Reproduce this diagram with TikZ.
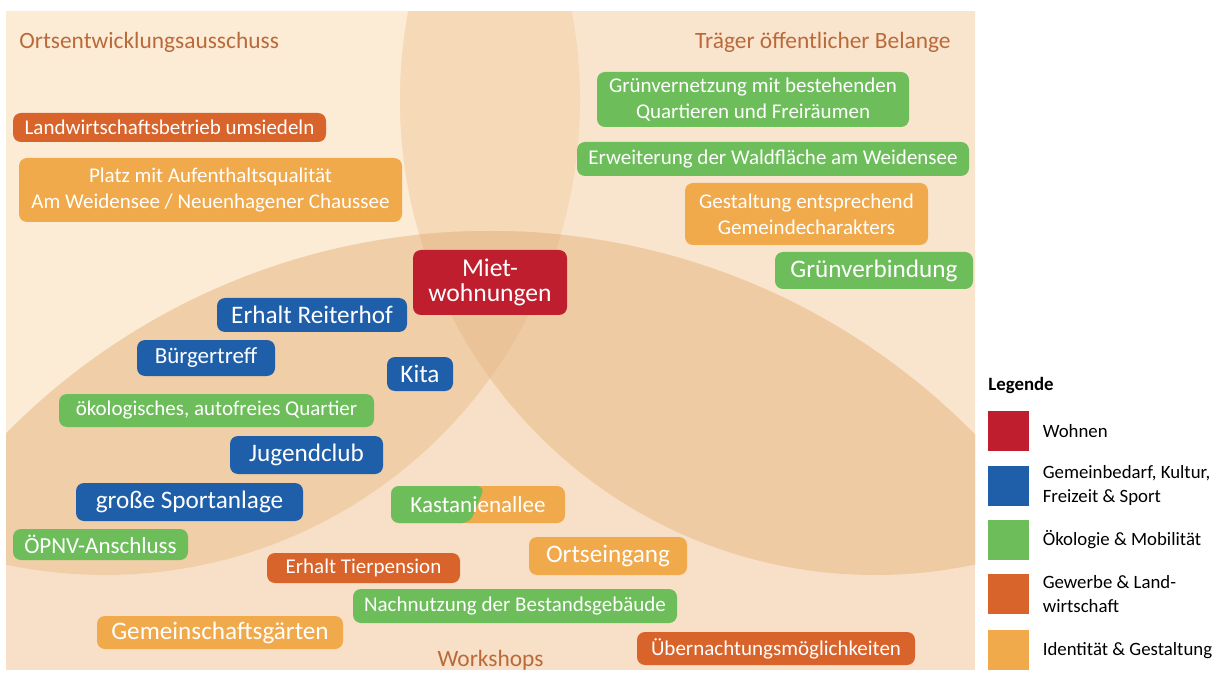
\documentclass[tikz,border=0pt]{standalone}
\usepackage{fontspec}
\setmainfont{Carlito}
\usetikzlibrary{positioning}

\definecolor{cWohnen}{HTML}{BE1E2D}
\definecolor{cGemein}{HTML}{1F5FAA}
\definecolor{cOeko}{HTML}{6DBE5B}
\definecolor{cGewerbe}{HTML}{D9642B}
\definecolor{cIdent}{HTML}{F0A94B}
\definecolor{cTitle}{HTML}{BA6A3A}
\definecolor{bgW}{HTML}{F7E0C7}
\definecolor{bgO}{HTML}{FCEBD5}
\definecolor{bgT}{HTML}{F9E5CD}
\definecolor{lensOT}{HTML}{F6D9B7}
\definecolor{lensOW}{HTML}{F0CEA7}
\definecolor{lensTW}{HTML}{EECBA3}
\definecolor{lensAll}{HTML}{EBC398}

\tikzset{
  tag/.style={rounded corners=4pt, text=white, align=center, inner sep=0pt,
    font=\fontsize{10.5}{13}\selectfont},
  mid/.style={font=\fontsize{11.5}{13}\selectfont},
  big/.style={font=\fontsize{12.6}{14}\selectfont},
  wohnen/.style={fill=cWohnen},
  gemein/.style={fill=cGemein},
  oeko/.style={fill=cOeko},
  gewerbe/.style={fill=cGewerbe},
  ident/.style={fill=cIdent},
  title/.style={text=cTitle, inner sep=0pt, font=\fontsize{11.7}{13}\selectfont},
  legsq/.style={minimum width=20.5pt, minimum height=20pt, inner sep=0pt},
  legtext/.style={inner sep=0pt, align=left, font=\fontsize{9.4}{12}\selectfont}
}

\begin{document}
\begin{tikzpicture}[x=0.5pt, y=-0.5pt]
  \useasboundingbox (0,0) rectangle (1219,673);
  \fill[white] (0,0) rectangle (1219,673);

  \coordinate (ctrO) at (105,100);
  \coordinate (ctrT) at (875,100);
  \coordinate (ctrW) at (490,911);

  % Venn background
  \begin{scope}
    \clip (6,12) rectangle (975,670);
    \fill[bgW] (6,12) rectangle (975,670);
    \fill[bgO] (ctrO) circle (237.5pt);
    \fill[bgT] (ctrT) circle (237.5pt);
    \begin{scope}
      \clip (ctrO) circle (237.5pt);
      \fill[lensOT] (ctrT) circle (237.5pt);
    \end{scope}
    \begin{scope}
      \clip (ctrO) circle (237.5pt);
      \fill[lensOW] (ctrW) circle (340pt);
    \end{scope}
    \begin{scope}
      \clip (ctrT) circle (237.5pt);
      \fill[lensTW] (ctrW) circle (340pt);
    \end{scope}
    \begin{scope}
      \clip (ctrO) circle (237.5pt);
      \clip (ctrT) circle (237.5pt);
      \fill[lensAll] (ctrW) circle (340pt);
    \end{scope}
  \end{scope}

  \node[title, anchor=west] (ortsaus) at (19,42) {Ortsentwicklungsausschuss};
  \node[title, anchor=east] (traeger) at (951,42) {Träger öffentlicher Belange};
  \node[title] (workshops) at (490.5,660) {Workshops};

  \node[tag, gewerbe, minimum width=156.5pt, minimum height=14.5pt] (landw) at (169.5,127.5) {Landwirtschaftsbetrieb umsiedeln};
  \node[tag, ident, minimum width=191.5pt, minimum height=32pt] (platz) at (210.5,190) {Platz mit Aufenthaltsqualität\\Am Weidensee / Neuenhagener Chaussee};
  \node[tag, wohnen, minimum width=77pt, minimum height=32.5pt, font=\fontsize{12.8}{12.8}\selectfont] (miet) at (490,282.5) {Miet-\\wohnungen};
  \node[tag, gemein, big, minimum width=95pt, minimum height=17pt] (reiterhof) at (312,315) {Erhalt Reiterhof};
  \node[tag, gemein, mid, minimum width=69pt, minimum height=18pt] (buerger) at (206,358) {Bürgertreff};
  \node[tag, gemein, big, minimum width=33pt, minimum height=17pt] (kita) at (420,374) {Kita};
  \node[tag, oeko, minimum width=157.5pt, minimum height=16.5pt] (quartier) at (216.5,410.5) {ökologisches, autofreies Quartier};
  \node[tag, gemein, big, minimum width=76.5pt, minimum height=19pt] (jugend) at (306.5,455) {Jugendclub};
  \node[tag, gemein, big, minimum width=113.5pt, minimum height=19pt] (sport) at (189.5,502) {große Sportanlage};
  \node[tag, oeko, mid, minimum width=87.5pt, minimum height=15.5pt] (oepnv) at (100.5,544.5) {ÖPNV-Anschluss};
  \node[tag, ident, mid, minimum width=87pt, minimum height=18.5pt,
    path picture={\fill[cOeko] (path picture bounding box.north west)
      -- ([xshift=47pt]path picture bounding box.north west)
      -- ([xshift=39.5pt]path picture bounding box.south west)
      -- (path picture bounding box.south west) -- cycle;}] (kastanie) at (478,504.5) {Kastanienallee};
  \node[tag, gewerbe, minimum width=96.5pt, minimum height=15pt] (tierpension) at (363.5,568) {Erhalt Tierpension};
  \node[tag, ident, big, minimum width=79pt, minimum height=19pt] (ortseingang) at (608,556) {Ortseingang};
  \node[tag, oeko, minimum width=162pt, minimum height=17pt] (nachnutzung) at (515,606) {Nachnutzung der Bestandsgebäude};
  \node[tag, ident, big, minimum width=123pt, minimum height=16.5pt] (gaerten) at (220,632.5) {Gemeinschaftsgärten};
  \node[tag, gewerbe, minimum width=139pt, minimum height=16.5pt] (uebernacht) at (776,648.5) {Übernachtungsmöglichkeiten};

  \node[tag, oeko, minimum width=156pt, minimum height=27.5pt] (gruenvernetz) at (753,99.5) {Grünvernetzung mit bestehenden\\Quartieren und Freiräumen};
  \node[tag, oeko, minimum width=196pt, minimum height=17pt] (wald) at (773,159) {Erweiterung der Waldfläche am Weidensee};
  \node[tag, ident, minimum width=121.5pt, minimum height=31pt] (gemeindechar) at (806.5,214) {Gestaltung entsprechend\\Gemeindecharakters};
  \node[tag, oeko, big, minimum width=99pt, minimum height=18.5pt] (gruenverb) at (874,270.5) {Grünverbindung};

  % Legende
  \node[legtext, anchor=west, font=\fontsize{9.4}{12}\selectfont\bfseries] (legende) at (988,385) {Legende};
  \node[legsq, wohnen] (sqwohnen) at (1008.5,431) {};
  \node[legsq, gemein, below=7pt of sqwohnen] (sqgemein) {};
  \node[legsq, oeko, below=6.5pt of sqgemein] (sqoeko) {};
  \node[legsq, gewerbe, below=7pt of sqoeko] (sqgewerbe) {};
  \node[legsq, ident, below=7.5pt of sqgewerbe] (sqident) {};
  \node[legtext, right=6.5pt of sqwohnen] (txwohnen) {Wohnen};
  \node[legtext, right=6.5pt of sqgemein] (txgemein) {Gemeinbedarf, Kultur,\\Freizeit \& Sport};
  \node[legtext, right=6.5pt of sqoeko] (txoeko) {Ökologie \& Mobilität};
  \node[legtext, right=6.5pt of sqgewerbe] (txgewerbe) {Gewerbe \& Land-\\wirtschaft};
  \node[legtext, right=6.5pt of sqident] (txident) {Identität \& Gestaltung};
\end{tikzpicture}
\end{document}
